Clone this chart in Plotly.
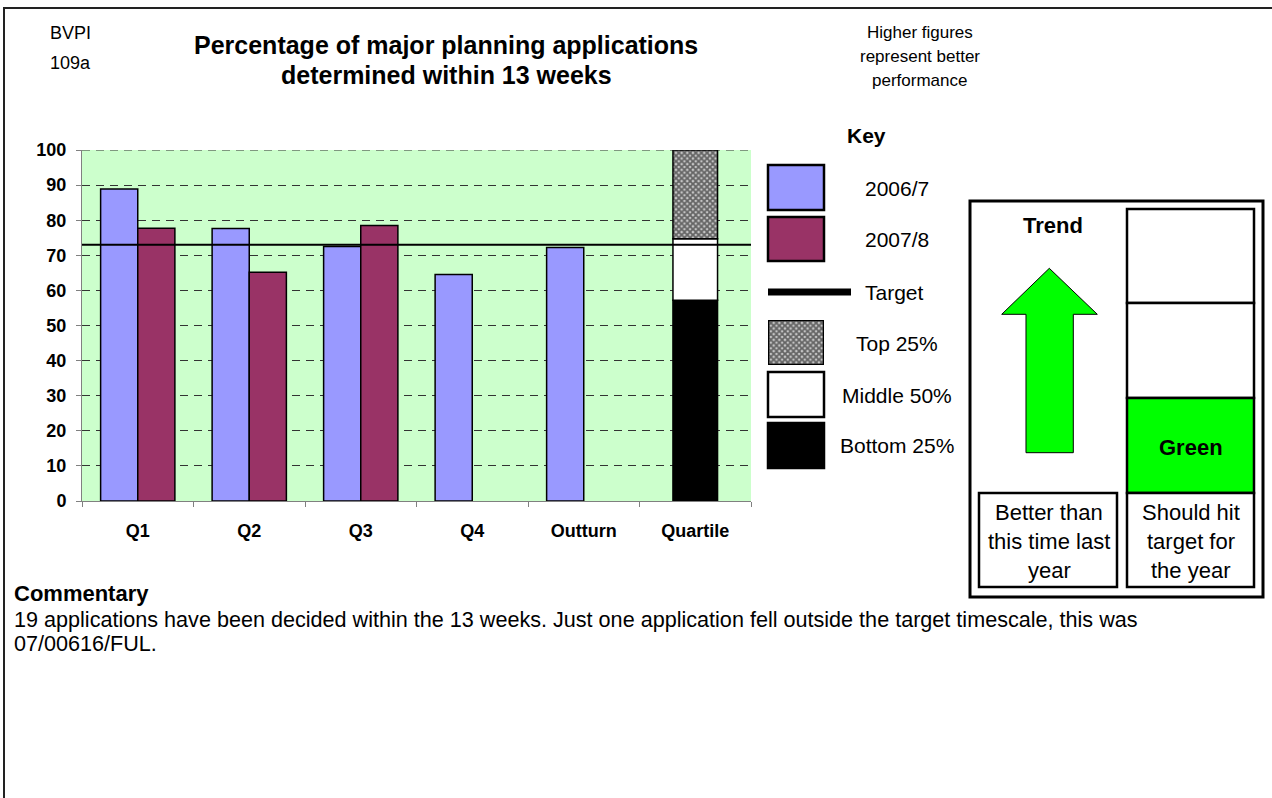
import plotly.graph_objects as go

# ---------------- data ----------------
CATEGORIES = ["Q1", "Q2", "Q3", "Q4", "Outturn", "Quartile"]
SERIES_2006_CATS = ["Q1", "Q2", "Q3", "Q4", "Outturn"]
SERIES_2006 = [88.9, 77.6, 72.5, 64.5, 72.2]
SERIES_2007_CATS = ["Q1", "Q2", "Q3"]
SERIES_2007 = [77.7, 65.2, 78.5]
TARGET = 73.0
QUARTILE_BOUNDS = [0, 57.2, 74.7, 100]   # bottom 25% / middle 50% / top 25%
Y_TICKS = [0, 10, 20, 30, 40, 50, 60, 70, 80, 90, 100]

W, H = 1272, 798
L, R, T, B = 82, 751, 150, 501   # plot area in page pixels
FONT = "Liberation Sans, Arial, sans-serif"


def px(x):
    return x / W


def py(y):
    return 1 - y / H


fig = go.Figure()

BAR_LINE = dict(color="black", width=1.5)
fig.add_trace(go.Bar(x=SERIES_2006_CATS, y=SERIES_2006, name="2006/7",
                     marker=dict(color="#9999FF", line=BAR_LINE),
                     offset=-0.333, width=0.333))
fig.add_trace(go.Bar(x=SERIES_2007_CATS, y=SERIES_2007, name="2007/8",
                     marker=dict(color="#993366", line=BAR_LINE),
                     offset=0.0, width=0.333))

# quartile stacked bar built from the bounds
q_heights = [QUARTILE_BOUNDS[i + 1] - QUARTILE_BOUNDS[i] for i in range(3)]
CHECK = dict(shape="x", fgcolor="black", bgcolor="#c8c8c8", size=4, solidity=0.7)
q_styles = [
    dict(color="black", line=BAR_LINE),
    dict(color="white", line=BAR_LINE),
    dict(color="white", line=BAR_LINE, pattern=CHECK),
]
q_names = ["Bottom 25%", "Middle 50%", "Top 25%"]
for i in range(3):
    fig.add_trace(go.Bar(x=["Quartile"], y=[q_heights[i]], base=[QUARTILE_BOUNDS[i]],
                         name=q_names[i], marker=q_styles[i], offset=-0.2, width=0.4))

# key swatch for "Top 25%" drawn as a patterned bar on an overlay axis
fig.add_trace(go.Bar(x=[0.5], y=[1], base=[0], xaxis="x2", yaxis="y2", width=[1],
                     marker=dict(color="white", line=dict(color="black", width=2.5), pattern=CHECK),
                     hoverinfo="skip", name="Top 25% key"))

shapes = []
# top gridline (at the range edge) and target line
shapes.append(dict(type="line", xref="x domain", yref="y", x0=0, x1=1, y0=Y_TICKS[-1], y1=Y_TICKS[-1],
                   line=dict(color="#333333", width=1, dash="8px,6px"), layer="below"))
shapes.append(dict(type="line", xref="x domain", yref="y", x0=0, x1=1, y0=TARGET, y1=TARGET,
                   line=dict(color="black", width=2)))

# page border
shapes.append(dict(type="line", xref="paper", yref="paper", x0=px(3), x1=px(1272), y0=py(8), y1=py(8),
                   line=dict(color="#222", width=2)))
shapes.append(dict(type="line", xref="paper", yref="paper", x0=px(4), x1=px(4), y0=py(7), y1=py(798),
                   line=dict(color="#222", width=2)))


def rect(x0, y0, x1, y1, fill, lw=2):
    return dict(type="rect", xref="paper", yref="paper", x0=px(x0), x1=px(x1), y0=py(y1), y1=py(y0),
                fillcolor=fill, line=dict(color="black", width=lw), layer="above")


# key swatches
shapes.append(rect(768, 165, 824, 210, "#9999FF", 2.5))
shapes.append(rect(768, 217, 824, 261, "#993366", 2.5))
shapes.append(dict(type="line", xref="paper", yref="paper", x0=px(768), x1=px(851), y0=py(292), y1=py(292),
                   line=dict(color="black", width=7)))
shapes.append(rect(768, 372, 824, 417, "white", 2.5))
shapes.append(rect(768, 423, 824, 468, "black", 2.5))

# trend box
shapes.append(rect(970, 201, 1263, 597, "rgba(0,0,0,0)", 3))
shapes.append(rect(1127, 209, 1254, 303, "white", 2.5))
shapes.append(rect(1127, 303, 1254, 398, "white", 2.5))
shapes.append(rect(1127, 398, 1254, 493, "#00FF00", 2.5))
shapes.append(rect(1127, 493, 1254, 587, "white", 2.5))
shapes.append(rect(979, 493, 1117, 587, "white", 2.5))

# arrow
pts = [(1026, 452.7), (1026, 314.3), (1001.7, 314.3), (1049.3, 268.3), (1097.3, 314.3),
       (1073.3, 314.3), (1073.3, 452.7)]
path = "M " + " L ".join(f"{px(x):.5f},{py(y):.5f}" for x, y in pts) + " Z"
shapes.append(dict(type="path", xref="paper", yref="paper", path=path, fillcolor="#00FF00",
                   line=dict(color="black", width=1)))

annotations = []


def text(x, y, s, size, bold=False, xanchor="center"):
    annotations.append(dict(x=px(x), y=py(y), xref="paper", yref="paper", text=(f"<b>{s}</b>" if bold else s),
                            showarrow=False, xanchor=xanchor, yanchor="middle",
                            font=dict(family=FONT, size=size, color="black")))


text(48, 33, "BVPI", 18, xanchor="left")
text(48, 63, "109a", 18, xanchor="left")
text(446, 45, "Percentage of major planning applications", 25, True)
text(446, 75, "determined within 13 weeks", 25, True)
text(920, 33, "Higher figures", 17)
text(920, 57, "represent better", 17)
text(920, 81, "performance", 17)
text(866, 135, "Key", 21, True)
text(897, 188, "2006/7", 21)
text(897, 239, "2007/8", 21)
text(894, 292, "Target", 21)
text(897, 343, "Top 25%", 21)
text(897, 395, "Middle 50%", 21)
text(897, 445, "Bottom 25%", 21)
text(1053, 226, "Trend", 22, True)
text(1191, 447, "Green", 22, True)
for i, line in enumerate(["Better than", "this time last", "year"]):
    text(1049, 512 + 29 * i, line, 22)
for i, line in enumerate(["Should hit", "target for", "the year"]):
    text(1191, 512 + 29 * i, line, 22)
text(12, 593, "Commentary", 22, True, xanchor="left")
text(12, 619, "19 applications have been decided within the 13 weeks. Just one application fell outside the target timescale, this was",
     21.6, xanchor="left")
text(12, 643, "07/00616/FUL.", 21.6, xanchor="left")

fig.update_layout(
    width=W, height=H, autosize=False,
    margin=dict(l=0, r=0, t=0, b=0, pad=0),
    paper_bgcolor="white", plot_bgcolor="#CCFFCC",
    barmode="overlay", showlegend=False,
    font=dict(family=FONT, color="black"),
    shapes=shapes, annotations=annotations,
    xaxis=dict(domain=[px(L), px(R)], type="category", categoryorder="array", categoryarray=CATEGORIES,
               range=[-0.5, len(CATEGORIES) - 0.5], automargin=False,
               showline=True, linecolor="#808080", linewidth=1,
               ticks="outside", ticklen=5, tickcolor="#808080", tickson="boundaries",
               showgrid=False, tickfont=dict(family=FONT, size=18, color="black"),
               ticklabelstandoff=13,
               tickvals=CATEGORIES, ticktext=[f"<b>{c}</b>" for c in CATEGORIES]),
    yaxis=dict(domain=[py(B), py(T)], range=[0, 100], automargin=False,
               tickvals=Y_TICKS, ticktext=[f"<b>{v}</b>" for v in Y_TICKS],
               showline=True, linecolor="#808080", linewidth=1,
               ticks="outside", ticklen=5, tickcolor="#808080", ticklabelstandoff=6,
               showgrid=True, gridcolor="#333333", gridwidth=1, griddash="8px,6px",
               zeroline=False, tickfont=dict(family=FONT, size=18, color="black")),
    xaxis2=dict(domain=[px(768), px(824)], range=[0, 1], anchor="y2", visible=False),
    yaxis2=dict(domain=[py(365), py(320)], range=[0, 1], anchor="x2", visible=False),
)

fig.write_html("out.html", config={"displayModeBar": False},
               post_script="document.body.style.margin='0';document.body.style.overflow='hidden';")
